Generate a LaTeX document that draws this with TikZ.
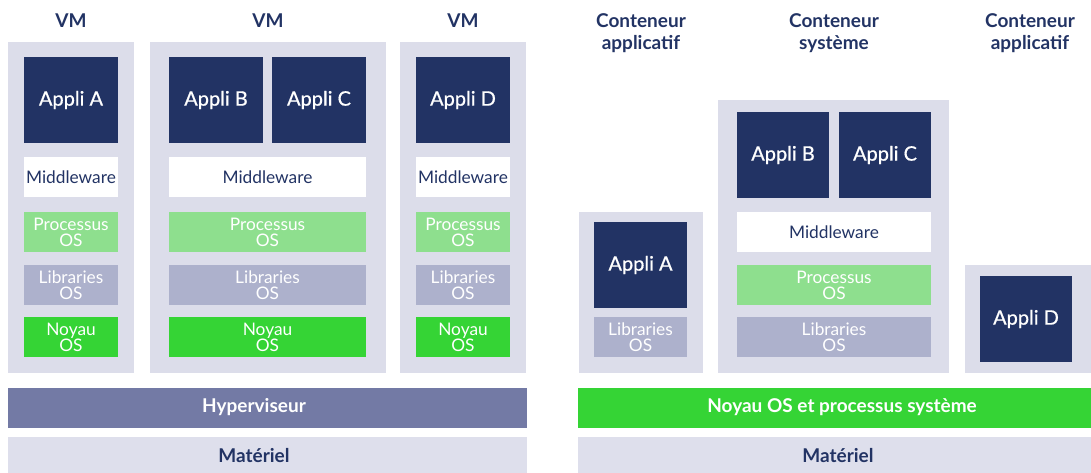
\documentclass[tikz,border=0pt]{standalone}
\usepackage{fontspec}
\setmainfont{Lato}
\newfontfamily\latomed[FakeBold=0.7]{Lato}
\definecolor{frame}{HTML}{DCDDEA}
\definecolor{navy}{HTML}{223364}
\definecolor{procgreen}{HTML}{8EDF8E}
\definecolor{libgray}{HTML}{ADB1CC}
\definecolor{kernel}{HTML}{35D435}
\definecolor{hyper}{HTML}{737AA5}
\definecolor{hw}{HTML}{DEDFEC}
\tikzset{
  blk/.style={anchor=north west, inner sep=0pt, outer sep=0pt, align=center},
  shell/.style={blk, fill=frame},
  app/.style={blk, fill=navy, text=white, font=\latomed\fontsize{20}{22}\selectfont},
  mid/.style={blk, fill=white, text=navy, font=\fontsize{17.3}{18}\selectfont},
  proc/.style={blk, fill=procgreen, text=white, font=\fontsize{17.3}{16}\selectfont},
  lib/.style={blk, fill=libgray, text=white, font=\fontsize{17.3}{16}\selectfont},
  noy/.style={blk, fill=kernel, text=white, font=\fontsize{17.3}{16}\selectfont},
  bar/.style={blk},
  barlabel/.style={inner sep=0pt, text=white, font=\bfseries\fontsize{19}{20}\selectfont},
  title/.style={inner sep=0pt, align=center, text=navy, font=\bfseries\fontsize{19}{22}\selectfont},
}
% box helper: name, style, x, y, width, height, text
\newcommand{\bx}[7]{\node[#2, minimum width=#5pt, minimum height=#6pt] (#1) at (#3,#4) {#7};}
\begin{document}
\begin{tikzpicture}[x=1pt,y=-1pt]
\useasboundingbox (0,0) rectangle (1091,473);

% ---- Virtual machines ----
\node[title] (t1) at (71,21) {VM};
\node[title] (t2) at (268,21) {VM};
\node[title] (t3) at (463,21) {VM};

\bx{vm1}{shell}{8}{42}{126}{331}{}
\bx{vm2}{shell}{150}{42}{236}{331}{}
\bx{vm3}{shell}{400}{42}{126}{331}{}

\bx{va}{app}{24}{57}{94}{86}{Appli A}
\bx{vb}{app}{169}{57}{94}{86}{Appli B}
\bx{vc}{app}{272}{57}{94}{86}{Appli C}
\bx{vd}{app}{416}{57}{94}{86}{Appli D}

\bx{vm1m}{mid}{24}{157}{94}{40}{Middleware}
\bx{vm2m}{mid}{169}{157}{197}{40}{Middleware}
\bx{vm3m}{mid}{416}{157}{94}{40}{Middleware}

\bx{vm1p}{proc}{24}{212}{94}{40}{Processus\\OS}
\bx{vm2p}{proc}{169}{212}{197}{40}{Processus\\OS}
\bx{vm3p}{proc}{416}{212}{94}{40}{Processus\\OS}

\bx{vm1l}{lib}{24}{265}{94}{40}{Libraries\\OS}
\bx{vm2l}{lib}{169}{265}{197}{40}{Libraries\\OS}
\bx{vm3l}{lib}{416}{265}{94}{40}{Libraries\\OS}

\bx{vm1n}{noy}{24}{317}{94}{40}{Noyau\\OS}
\bx{vm2n}{noy}{169}{317}{197}{40}{Noyau\\OS}
\bx{vm3n}{noy}{416}{317}{94}{40}{Noyau\\OS}

\bx{hyp}{bar, fill=hyper}{8}{388}{519}{40}{}
\bx{hwl}{bar, fill=hw}{8}{437}{519}{36}{}
\node[barlabel] (hypt) at (254,407) {Hyperviseur};
\node[barlabel, text=navy] (hwlt) at (254,456) {Matériel};

% ---- Containers ----
\node[title] (c1) at (641,33) {Conteneur\\applicatif};
\node[title] (c2) at (834,33) {Conteneur\\système};
\node[title] (c3) at (1030,33) {Conteneur\\applicatif};

\bx{ca}{shell}{579}{212}{124}{161}{}
\bx{cs}{shell}{718}{100}{231}{273}{}
\bx{cd}{shell}{965}{265}{126}{108}{}

\bx{caa}{app}{594}{222}{93}{86}{Appli A}
\bx{cal}{lib}{594}{317}{93}{40}{Libraries\\OS}

\bx{csb}{app}{737}{112}{92}{86}{Appli B}
\bx{csc}{app}{839}{112}{92}{86}{Appli C}
\bx{csm}{mid}{737}{212}{194}{40}{Middleware}
\bx{csp}{proc}{737}{265}{194}{40}{Processus\\OS}
\bx{csl}{lib}{737}{317}{194}{40}{Libraries\\OS}

\bx{cdd}{app}{980}{276}{92}{86}{Appli D}

\bx{kern}{bar, fill=kernel}{578}{388}{513}{40}{}
\bx{hwr}{bar, fill=hw}{578}{437}{513}{36}{}
\node[barlabel] (kernt) at (842,407) {Noyau OS et processus système};
\node[barlabel, text=navy] (hwrt) at (838,456) {Matériel};
\end{tikzpicture}
\end{document}
